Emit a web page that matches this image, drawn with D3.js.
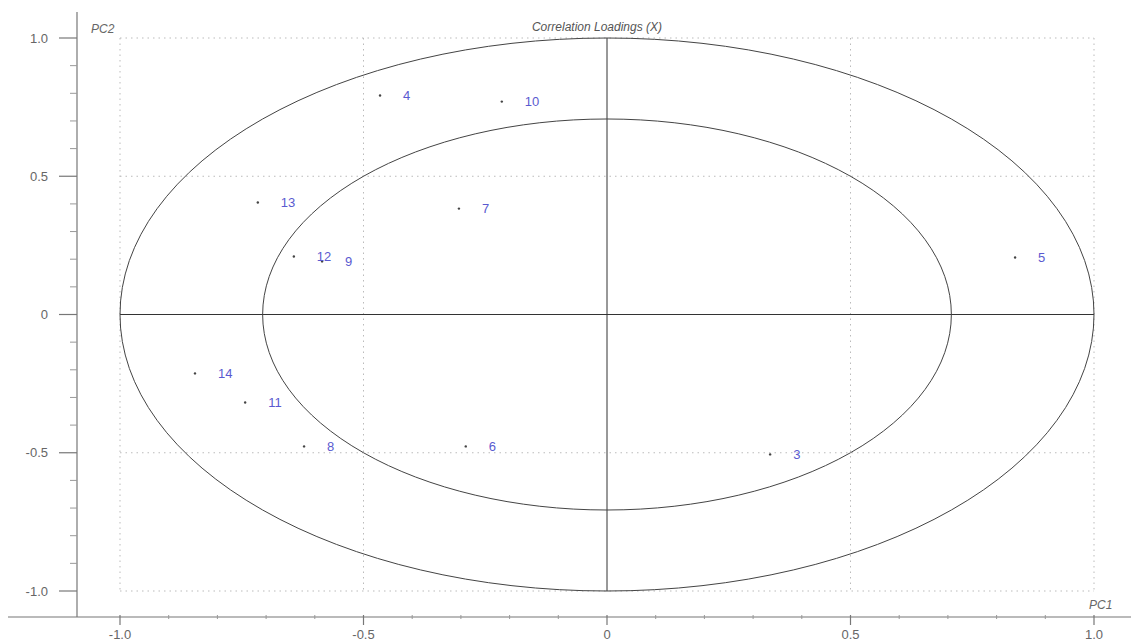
<!DOCTYPE html>
<html>
<head>
<meta charset="utf-8">
<script src="https://cdn.jsdelivr.net/npm/d3@7/dist/d3.min.js"></script>
<style>
  html, body { margin: 0; padding: 0; background: #fff; }
  svg { display: block; font-family: "Liberation Sans", Arial, sans-serif; }
</style>
</head>
<body>
<svg id="chart" width="1131" height="642"></svg>
<script>
// Variable names and their correlation loadings on PC1 / PC2
const variables = ["4", "10", "13", "7", "12", "9", "5", "14", "11", "8", "6", "3"];
const pc1 = [-0.466, -0.216, -0.717, -0.304, -0.643, -0.585, 0.838, -0.846, -0.743, -0.622, -0.290, 0.335];
const pc2 = [0.792, 0.770, 0.405, 0.383, 0.210, 0.192, 0.206, -0.213, -0.318, -0.477, -0.477, -0.506];

const majorTicks = [-1.0, -0.5, 0, 0.5, 1.0];
const tickLabels = ["-1.0", "-0.5", "0", "0.5", "1.0"];
const gridValues = [-1.0, -0.5, 0.5, 1.0];
const radii = [1.0, Math.SQRT1_2];

const svg = d3.select("#chart");

const x = d3.scaleLinear().domain([-1, 1]).range([120, 1094]);
const y = d3.scaleLinear().domain([-1, 1]).range([591, 38]);

const axisColor = "#777";
const textColor = "#666";

// dotted grid
const grid = svg.append("g").attr("stroke", "#bbb").attr("stroke-dasharray", "1.5,4");
grid.selectAll("line.v").data(gridValues).join("line")
  .attr("x1", d => x(d)).attr("x2", d => x(d))
  .attr("y1", y(1)).attr("y2", y(-1));
grid.selectAll("line.h").data(gridValues).join("line")
  .attr("x1", x(-1)).attr("x2", x(1))
  .attr("y1", d => y(d)).attr("y2", d => y(d));

// axes
const yAxisX = 77, xAxisY = 617;
const minor = d3.range(-10, 11).map(i => i / 10).filter(v => Math.abs(v * 2 - Math.round(v * 2)) > 1e-6);

const yAx = svg.append("g").attr("transform", `translate(${yAxisX},0)`);
yAx.append("line").attr("x1", 0).attr("x2", 0).attr("y1", 12).attr("y2", xAxisY).attr("stroke", axisColor).attr("stroke-width", 1.2);
yAx.selectAll("line.maj").data(majorTicks).join("line")
  .attr("x1", -18).attr("x2", 0).attr("y1", d => y(d)).attr("y2", d => y(d))
  .attr("stroke", axisColor).attr("stroke-width", 1.2);
yAx.selectAll("line.min").data(minor).join("line")
  .attr("x1", -7).attr("x2", 0).attr("y1", d => y(d)).attr("y2", d => y(d))
  .attr("stroke", "#999");
yAx.selectAll("text").data(majorTicks).join("text")
  .attr("x", -29).attr("y", d => y(d)).attr("dy", "0.35em")
  .attr("text-anchor", "end").attr("font-size", 13).attr("fill", textColor)
  .text((d, i) => tickLabels[i]);

const xAx = svg.append("g").attr("transform", `translate(0,${xAxisY})`);
xAx.append("line").attr("x1", 8).attr("x2", 1131).attr("y1", 0).attr("y2", 0).attr("stroke", axisColor).attr("stroke-width", 1.2);
xAx.selectAll("line.maj").data(majorTicks).join("line")
  .attr("x1", d => x(d)).attr("x2", d => x(d)).attr("y1", -2).attr("y2", 8)
  .attr("stroke", axisColor).attr("stroke-width", 1.2);
xAx.selectAll("line.min").data(minor).join("line")
  .attr("x1", d => x(d)).attr("x2", d => x(d)).attr("y1", -2).attr("y2", 2)
  .attr("stroke", "#999");
xAx.selectAll("text").data(majorTicks).join("text")
  .attr("x", d => x(d)).attr("y", 22)
  .attr("text-anchor", "middle").attr("font-size", 13).attr("fill", textColor)
  .text((d, i) => tickLabels[i]);

// zero cross lines
svg.append("line").attr("x1", x(-1)).attr("x2", x(1)).attr("y1", y(0)).attr("y2", y(0)).attr("stroke", "#333");
svg.append("line").attr("x1", x(0)).attr("x2", x(0)).attr("y1", y(1)).attr("y2", y(-1)).attr("stroke", "#333");

// correlation circles (100% and 50% explained variance)
svg.selectAll("ellipse").data(radii).join("ellipse")
  .attr("cx", x(0)).attr("cy", y(0))
  .attr("rx", d => x(d) - x(0)).attr("ry", d => y(0) - y(d))
  .attr("fill", "none").attr("stroke", "#444").attr("stroke-width", 1);

// titles
svg.append("text").attr("x", 597).attr("y", 31).attr("text-anchor", "middle")
  .attr("font-size", 12).attr("font-style", "italic").attr("fill", "#555")
  .text("Correlation Loadings (X)");
svg.append("text").attr("x", 91).attr("y", 33)
  .attr("font-size", 12).attr("font-style", "italic").attr("fill", "#666").text("PC2");
svg.append("text").attr("x", 1089).attr("y", 609)
  .attr("font-size", 12).attr("font-style", "italic").attr("fill", "#666").text("PC1");

// loadings
const pts = variables.map((v, i) => ({ name: v, px: pc1[i], py: pc2[i] }));
svg.selectAll("circle.pt").data(pts).join("circle")
  .attr("cx", d => x(d.px)).attr("cy", d => y(d.py)).attr("r", 1.2).attr("fill", "#444");
svg.selectAll("text.lbl").data(pts).join("text")
  .attr("x", d => x(d.px) + 23).attr("y", d => y(d.py)).attr("dy", "0.35em")
  .attr("font-size", 13).attr("fill", "#5a5ad0")
  .text(d => d.name);
</script>
</body>
</html>
